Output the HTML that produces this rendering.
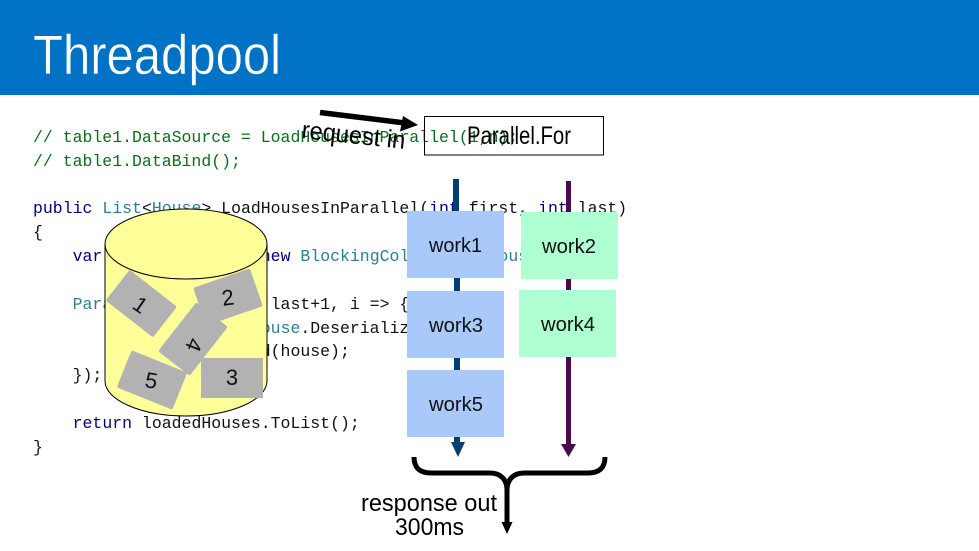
<!DOCTYPE html>
<html>
<head>
<meta charset="utf-8">
<style>
html,body{margin:0;padding:0;background:#fff;}
svg{display:block;}
.code{font-family:"Liberation Mono",monospace;font-size:16.5px;white-space:pre;}
.t{font-family:"Liberation Sans",sans-serif;}
</style>
</head>
<body>
<svg width="979" height="551" viewBox="0 0 979 551" xmlns="http://www.w3.org/2000/svg">
<rect width="979" height="551" fill="#fff"/>
<rect width="979" height="95" fill="#0072c6"/>
<text class="t" x="33" y="74" font-size="56" fill="#fff" stroke="#0072c6" stroke-width="0.5" textLength="248" lengthAdjust="spacingAndGlyphs">Threadpool</text>

<g class="code" xml:space="preserve">
<text x="33" y="142" fill="#0f6b20" xml:space="preserve">// table1.DataSource = LoadHousesInParallel(1,n);</text>
<text x="33" y="166" fill="#0f6b20" xml:space="preserve">// table1.DataBind();</text>
<text x="33" y="213" fill="#111" xml:space="preserve"><tspan fill="#00007f">public</tspan> <tspan fill="#2b8091">List</tspan>&lt;<tspan fill="#2b8091">House</tspan>&gt; LoadHousesInParallel(<tspan fill="#00007f">int</tspan> first, <tspan fill="#00007f">int</tspan> last)</text>
<text x="33" y="237" fill="#111" xml:space="preserve">{</text>
<text x="33" y="261" fill="#111" xml:space="preserve">    <tspan fill="#00007f">var</tspan> loadedHouses = <tspan fill="#00007f">new</tspan> <tspan fill="#2b8091">BlockingCollection</tspan>&lt;<tspan fill="#2b8091">House</tspan>&gt;();</text>
<text x="33" y="309" fill="#111" xml:space="preserve">    <tspan fill="#2b8091">Parallel</tspan>.For(first, last+1, i =&gt; {</text>
<text x="33" y="333" fill="#111" xml:space="preserve">        <tspan fill="#2b8091">House</tspan> house = <tspan fill="#2b8091">House</tspan>.Deserialize(i);</text>
<text x="33" y="356" fill="#111" xml:space="preserve">        loadedHouses.Add(house);</text>
<text x="33" y="380" fill="#111" xml:space="preserve">    });</text>
<text x="33" y="428" fill="#111" xml:space="preserve">    <tspan fill="#00007f">return</tspan> loadedHouses.ToList();</text>
<text x="33" y="452" fill="#111" xml:space="preserve">}</text>
</g>

<!-- cylinder -->
<path d="M105 244 V381 C105 400 141 416 186 416 C231 416 267 400 267 381 V244 Z" fill="#ffff99" stroke="#000" stroke-width="1"/>
<ellipse cx="186" cy="244" rx="81" ry="35" fill="#ffff99" stroke="#000" stroke-width="1"/>

<!-- cards -->
<g fill="#b2b2b2">
<rect x="-30" y="-20" width="60" height="40" rx="2" transform="translate(228 297) rotate(-19)"/>
<rect x="-30" y="-20" width="60" height="39" rx="2" transform="translate(141 304) rotate(38)"/>
<rect x="-31" y="-20" width="62" height="40" rx="2" transform="translate(193 339) rotate(-52)"/>
<rect x="-31" y="-20" width="62" height="40" transform="translate(232 378)"/>
<rect x="-30" y="-20" width="60" height="40" rx="2" transform="translate(152 380) rotate(22)"/>
</g>
<g class="t" font-size="22" fill="#111" text-anchor="middle">
<text transform="translate(136 311) rotate(35)">1</text>
<text transform="translate(229 305) rotate(-8)">2</text>
<text x="232" y="385">3</text>
<text transform="translate(187 342) rotate(112)">4</text>
<text transform="translate(150 388) rotate(10)">5</text>
</g>

<!-- Parallel.For box -->
<rect x="424.5" y="116.5" width="179" height="38.5" fill="none" stroke="#000" stroke-width="1"/>
<text class="t" x="467" y="144" font-size="25" fill="#000" textLength="104" lengthAdjust="spacingAndGlyphs">Parallel.For</text>

<!-- request in -->
<text class="t" transform="translate(301 138) rotate(6)" font-size="25" fill="#000" textLength="104" lengthAdjust="spacingAndGlyphs">request in</text>
<path d="M320 112.5 L405 123" stroke="#000" stroke-width="5.5" fill="none"/>
<path d="M418 125 L400 131.5 L403 116 Z" fill="#000"/>

<!-- flow lines -->
<rect x="453" y="179" width="6" height="40" fill="#003f6f"/>
<rect x="454" y="275" width="6" height="170" fill="#003f6f"/>
<path d="M451 442 H465 L458 457 Z" fill="#003f6f"/>
<rect x="566" y="181" width="5" height="265" fill="#4b0a4f"/>
<path d="M561 444 H576 L568.5 457 Z" fill="#4b0a4f"/>

<!-- work boxes -->
<rect x="407" y="211" width="97" height="67" fill="#a9c9fb"/>
<rect x="407" y="291" width="97" height="67" fill="#a9c9fb"/>
<rect x="407" y="370" width="97" height="67" fill="#a9c9fb"/>
<rect x="521" y="212" width="97" height="67" fill="#aeffd2"/>
<rect x="519" y="290" width="97" height="67" fill="#aeffd2"/>
<g class="t" font-size="20" fill="#111">
<text x="429" y="252" textLength="53" lengthAdjust="spacingAndGlyphs">work1</text>
<text x="542" y="253" textLength="54" lengthAdjust="spacingAndGlyphs">work2</text>
<text x="429" y="332" textLength="54" lengthAdjust="spacingAndGlyphs">work3</text>
<text x="541" y="331" textLength="54" lengthAdjust="spacingAndGlyphs">work4</text>
<text x="429" y="411" textLength="54" lengthAdjust="spacingAndGlyphs">work5</text>
</g>

<!-- brace -->
<path d="M414 457 C414 468 420 473 431 473 H490 C501 473 507 480 507 490 V525 M605 457 C605 468 599 473 588 473 H524 C513 473 507 480 507 490" fill="none" stroke="#000" stroke-width="5"/>
<path d="M501.5 522 H512.5 L507 534 Z" fill="#000"/>

<g class="t" font-size="24" fill="#000">
<text x="361" y="511" textLength="136" lengthAdjust="spacingAndGlyphs">response out</text>
<text x="395" y="535" textLength="69" lengthAdjust="spacingAndGlyphs">300ms</text>
</g>
</svg>
</body>
</html>
